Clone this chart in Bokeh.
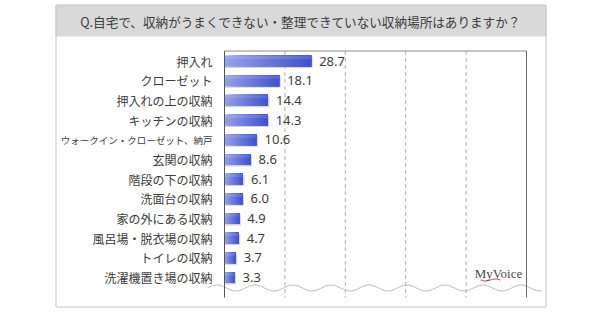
import numpy as np
from bokeh.plotting import figure
from bokeh.models import Range1d, ColumnDataSource
from bokeh.core.properties import value
from bokeh.embed import file_html
from bokeh.resources import INLINE

# ---- data ----
title_text = "Q.自宅で、収納がうまくできない・整理できていない収納場所はありますか？"
categories = ["押入れ", "クローゼット", "押入れの上の収納", "キッチンの収納",
              "ウォークイン・クローゼット、納戸", "玄関の収納", "階段の下の収納",
              "洗面台の収納", "家の外にある収納", "風呂場・脱衣場の収納",
              "トイレの収納", "洗濯機置き場の収納"]
values = [28.7, 18.1, 14.4, 14.3, 10.6, 8.6, 6.1, 6.0, 4.9, 4.7, 3.7, 3.3]
grid_ticks = [20, 40, 60, 80]
x_max = 100

# ---- layout helpers (pixel -> data) ----
X0_PX, PX_PER_X = 224.0, 3.02
Y0_PX, PX_PER_ROW = 60.5, 19.68
def px2x(px):
    return (px - X0_PX) / PX_PER_X
def px2y(px):
    return (px - Y0_PX) / PX_PER_ROW

W, H = 600, 312
p = figure(width=W, height=H, x_range=Range1d(px2x(0), px2x(W)),
           y_range=Range1d(px2y(H), px2y(0)), toolbar_location=None,
           output_backend="svg", min_border=0, min_border_left=0,
           min_border_right=0, min_border_top=0, min_border_bottom=0)
p.axis.visible = False
p.grid.visible = False
p.outline_line_color = None
p.background_fill_color = "white"
p.border_fill_color = "white"

FONT = value("Noto Sans CJK JP")
TXT = "#3c3c3c"

# outer box and title band
p.quad(left=[px2x(55)], right=[px2x(546)], top=[px2y(4.5)], bottom=[px2y(36)],
       fill_color="#d9d9d9", line_color=None)
p.quad(left=[px2x(55.5)], right=[px2x(545.5)], top=[px2y(4.5)], bottom=[px2y(306.5)],
       fill_color=None, line_color="#c4c4c4", line_width=1)
p.text(x=[px2x(300)], y=[px2y(21)], text=[title_text], text_font=FONT,
       text_font_size="12.6px", text_color=TXT, text_align="center",
       text_baseline="middle")

y_top = px2y(50.5)
y_bot = px2y(297)

# gridlines
p.segment(x0=grid_ticks, y0=[y_top] * len(grid_ticks), x1=grid_ticks,
          y1=[y_bot] * len(grid_ticks), line_color="#b0b0b0", line_dash="4 3",
          line_width=1)

# wavy break line
wx = np.linspace(px2x(207), px2x(541), 400)
wy = px2y(287.5) + (3.0 / PX_PER_ROW) * np.sin((wx - wx[0]) * PX_PER_X * 2 * np.pi / 38.0 + np.pi)
p.line(wx, wy, line_color="#b5b5b5", line_width=1)

# frame lines
p.segment(x0=[0], y0=[y_top], x1=[x_max], y1=[y_top], line_color="#8a8a8a", line_width=1)
p.segment(x0=[x_max], y0=[y_top], x1=[x_max], y1=[y_bot], line_color="#6a6a6a", line_width=1)

# bars: shadow + horizontal gradient (layered, each layer runs to the bar end)
idx = np.arange(len(categories))
bar_h = 11.0 / PX_PER_ROW
p.hbar(y=idx + 1.5 / PX_PER_ROW, left=0, right=np.array(values) + 1.5 / PX_PER_X,
       height=bar_h, fill_color="#bfbfc8", line_color=None, fill_alpha=0.7)
N = 20
c0 = np.array([0x95, 0xa0, 0xea])
c1 = np.array([0x43, 0x53, 0xca])
segs = {"y": [], "left": [], "right": [], "color": []}
for k in range(N):
    t = k / (N - 1)
    c = (c0 * (1 - t) + c1 * t).astype(int)
    col = "#%02x%02x%02x" % tuple(c)
    for i, v in enumerate(values):
        segs["y"].append(i)
        segs["left"].append(v * k / N)
        segs["right"].append(v)
        segs["color"].append(col)
p.hbar(y="y", left="left", right="right", height=bar_h, fill_color="color",
       line_color=None, source=ColumnDataSource(segs))
# top highlight
p.hbar(y=idx - 3.5 / PX_PER_ROW, left=0, right=values, height=3.0 / PX_PER_ROW,
       fill_color="white", fill_alpha=0.12, line_color=None)

# left axis line
p.segment(x0=[0], y0=[y_top], x1=[0], y1=[y_bot], line_color="#555555", line_width=1)

# value labels
p.text(x=values, y=idx, text=["%.1f" % v for v in values], x_offset=8,
       text_font=value("Noto Sans"), text_font_size="13px", text_color=TXT,
       text_align="left", text_baseline="middle")

# category labels
sizes = ["9.5px" if len(c) > 12 else "12px" for c in categories]
p.text(x=[0] * len(categories), y=idx, text=categories, x_offset=-12,
       text_font=FONT, text_font_size=sizes, text_color=TXT,
       text_align="right", text_baseline="middle")

# logo
p.text(x=[px2x(498)], y=[px2y(273)], text=["MyVoice"], text_font=value("Liberation Serif"),
       text_font_size="13px", text_color="#4a4a4a", text_align="center",
       text_baseline="middle")
lx = np.linspace(px2x(480), px2x(500), 30)
ly = px2y(279.5) + (1.0 / PX_PER_ROW) * np.sin((lx - lx[0]) * PX_PER_X * 2 * np.pi / 20.0)
p.line(lx, ly, line_color="#c03040", line_width=1)

open("out.html", "w").write(file_html(p, INLINE))
